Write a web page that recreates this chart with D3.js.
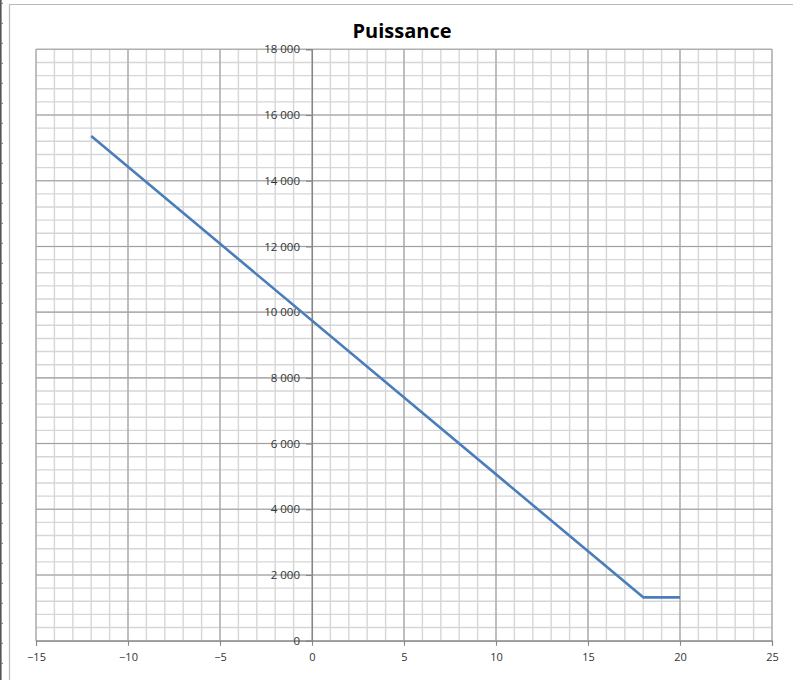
<!DOCTYPE html>
<html>
<head>
<meta charset="utf-8">
<script src="https://cdn.jsdelivr.net/npm/d3@7"></script>
<style>
  html, body { margin: 0; padding: 0; background: #fff; }
  svg { display: block; }
</style>
</head>
<body>
<script>
// ---- Data ----
const title = "Puissance";
const xValues = [-12, 18, 20];
const yValues = [15360, 1320, 1320];
const xTicks = [-15, -10, -5, 0, 5, 10, 15, 20, 25];
const yTicks = [0, 2000, 4000, 6000, 8000, 10000, 12000, 14000, 16000, 18000];

const W = 793, H = 680;
const svg = d3.select("body").append("svg").attr("width", W).attr("height", H);

// Spreadsheet edge and chart frame
svg.append("line").attr("x1", 0.8).attr("x2", 0.8).attr("y1", 0).attr("y2", H)
  .attr("stroke", "#555").attr("stroke-width", 1.6);
svg.append("g").selectAll("line").data(d3.range(3.3, H, 20)).join("line")
  .attr("x1", 1).attr("x2", 3).attr("y1", d => d).attr("y2", d => d)
  .attr("stroke", "#777").attr("stroke-width", 1);
svg.append("path").attr("d", `M9.5,${H} V4.5 H${W}`)
  .attr("fill", "none").attr("stroke", "#b8b8b8").attr("stroke-width", 1.2);

const x = d3.scaleLinear().domain([-15, 25]).range([36, 772]);
const y = d3.scaleLinear().domain([0, 18000]).range([640.7, 49.3]);

// Minor gridlines
const minorX = d3.range(-15, 25.01, 1);
const minorY = d3.range(0, 18000.1, 400);
const grid = svg.append("g");
grid.selectAll("line.mx").data(minorX).join("line").attr("class", "mx")
  .attr("x1", d => x(d)).attr("x2", d => x(d)).attr("y1", y(0)).attr("y2", y(18000))
  .attr("stroke", "#d6d6d6").attr("stroke-width", 1.4);
grid.selectAll("line.my").data(minorY).join("line").attr("class", "my")
  .attr("x1", x(-15)).attr("x2", x(25)).attr("y1", d => y(d)).attr("y2", d => y(d))
  .attr("stroke", "#d6d6d6").attr("stroke-width", 1.4);
// Major gridlines
grid.selectAll("line.Mx").data(xTicks).join("line").attr("class", "Mx")
  .attr("x1", d => x(d)).attr("x2", d => x(d)).attr("y1", y(0)).attr("y2", y(18000))
  .attr("stroke", "#a0a0a0").attr("stroke-width", 1.1);
grid.selectAll("line.My").data(yTicks).join("line").attr("class", "My")
  .attr("x1", x(-15)).attr("x2", x(25)).attr("y1", d => y(d)).attr("y2", d => y(d))
  .attr("stroke", "#a0a0a0").attr("stroke-width", 1.1);

// Number formatting with space thousands separator
const loc = d3.formatLocale({ decimal: ",", thousands: "\u00a0", grouping: [3], currency: ["", " €"] });
const fmtY = loc.format(",d");

// Axes
const xAxis = d3.axisBottom(x).tickValues(xTicks).tickSize(5).tickPadding(8).tickFormat(d3.format("d"));
const gx = svg.append("g").attr("transform", `translate(0,${y(0)})`).call(xAxis);
const yAxis = d3.axisLeft(y).tickValues(yTicks).tickSize(6).tickPadding(6).tickFormat(fmtY);
const gy = svg.append("g").attr("transform", `translate(${x(0)},0)`).call(yAxis);

[gx, gy].forEach(g => {
  g.select(".domain").attr("stroke", "#868686").attr("stroke-width", 1.1);
  g.selectAll(".tick line").attr("stroke", "#868686").attr("stroke-width", 1.1);
  g.selectAll(".tick text").attr("fill", "#333")
    .style("font-family", "'Open Sans', sans-serif").style("font-size", "11px");
});
gy.selectAll(".tick text").style("font-size", "11.5px");

// Series line
const pts = xValues.map((v, i) => [v, yValues[i]]);
svg.append("path").datum(pts)
  .attr("fill", "none").attr("stroke", "#4a7ebb").attr("stroke-width", 2.6)
  .attr("stroke-linejoin", "round")
  .attr("d", d3.line().x(d => x(d[0])).y(d => y(d[1])));

// Title
svg.append("text").attr("x", 402).attr("y", 37.5).attr("text-anchor", "middle")
  .style("font-family", "'Open Sans', sans-serif").style("font-weight", "bold").style("font-size", "20px")
  .attr("fill", "#000").text(title);
</script>
</body>
</html>
